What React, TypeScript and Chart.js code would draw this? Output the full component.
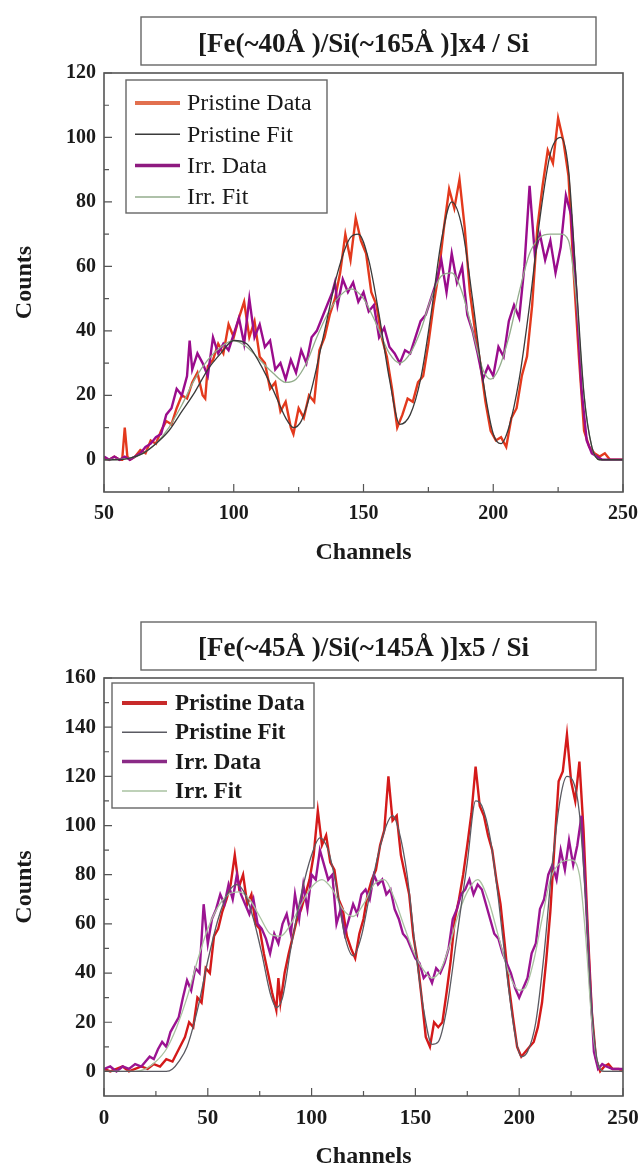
import React, { useEffect, useRef } from "react";
import { Chart, registerables } from "chart.js";

Chart.register(...registerables);

// ================= Top panel data =================
const topTitle = "[Fe(~40Å )/Si(~165Å )]x4 / Si";
const topXTicks = [50, 100, 150, 200, 250];
const topXMinor = [75, 125, 175, 225];
const topYTicks = [0, 20, 40, 60, 80, 100, 120];
const topYMinor = [10, 30, 50, 70, 90, 110];

const topPristineDataCh = [
  50, 52, 54, 56, 57, 58, 59, 60, 62, 64,
  66, 68, 70, 72, 74, 76, 78, 80, 82, 84,
  86, 88, 89, 90, 92, 94, 96, 98, 100, 102,
  104, 106, 108, 110, 112, 114, 116, 118, 120, 122,
  123, 125, 127, 129, 131, 133, 135, 137, 139, 141,
  143, 145, 147, 149, 151, 153, 155, 157, 159, 161,
  163, 165, 167, 169, 171, 173, 175, 177, 179, 181,
  183, 185, 187, 189, 191, 193, 195, 197, 199, 201,
  203, 205, 207, 209, 211, 213, 215, 217, 219, 221,
  223, 225, 227, 229, 231, 233, 235, 237, 239, 241,
  243, 245, 248, 250,
];
const topPristineDataCounts = [
  0.5, 0, 1, 0, 0, 10, 1, 0, 1, 3,
  2, 6, 5, 9, 12, 11, 16, 20, 19, 24,
  27, 20, 19, 29, 31, 36, 33, 42, 38, 44,
  49, 38, 43, 32, 30, 22, 24, 15, 18, 10,
  8, 16, 13, 20, 18, 34, 38, 45, 50, 58,
  70, 62, 75, 68, 64, 52, 48, 38, 32, 22,
  10, 14, 19, 18, 24, 26, 36, 48, 58, 72,
  84, 78, 87, 72, 52, 40, 30, 18, 9, 6,
  7, 4, 13, 16, 26, 32, 48, 72, 85, 96,
  92, 106, 99, 88, 58, 32, 9, 4, 2, 1,
  2, 0, 0, 0,
];

const topPristineFitCh = [
  50, 55, 60, 65, 70, 75, 80, 85, 90, 95,
  100, 105, 110, 115, 120, 123, 126, 130, 135, 140,
  145, 148, 152, 156, 160, 164, 168, 172, 176, 180,
  184, 188, 192, 196, 200, 203, 206, 210, 214, 218,
  222, 226, 229, 232, 235, 238, 241, 250,
];
const topPristineFitCounts = [
  0, 0, 0.5, 2, 5, 9, 15, 21, 28, 33,
  37, 36, 30, 22, 13, 10, 12, 22, 40, 58,
  69, 70, 62, 45, 25, 11, 14, 25, 45, 68,
  80, 72, 50, 25, 8, 5, 10, 25, 48, 75,
  95, 100, 90, 55, 20, 4, 0, 0,
];

const topIrrDataCh = [
  50, 52, 54, 56, 58, 60, 62, 64, 66, 68,
  70, 72, 74, 76, 78, 80, 82, 83, 84, 86,
  88, 90, 92, 94, 96, 98, 100, 102, 104, 106,
  108, 110, 112, 114, 116, 118, 120, 122, 124, 126,
  128, 130, 132, 134, 136, 138, 139, 140, 142, 144,
  146, 148, 150, 152, 154, 156, 158, 160, 162, 164,
  166, 168, 170, 172, 174, 176, 178, 180, 182, 184,
  186, 188, 190, 192, 194, 196, 198, 200, 202, 204,
  206, 208, 210, 212, 214, 216, 218, 220, 222, 224,
  226, 228, 230, 232, 234, 236, 238, 240, 242, 246,
  250,
];
const topIrrDataCounts = [
  1, 0, 1, 0, 1, 0, 1, 2, 4, 5,
  7, 8, 14, 16, 22, 20, 26, 37, 28, 33,
  30, 26, 38, 33, 36, 34, 39, 44, 36, 50,
  38, 42, 35, 37, 28, 30, 25, 31, 27, 34,
  30, 38, 40, 44, 48, 52, 55, 48, 56, 52,
  55, 49, 52, 46, 48, 38, 41, 35, 33, 30,
  34, 33, 38, 43, 45, 50, 55, 62, 52, 64,
  55, 60, 45, 40, 33, 25, 29, 26, 35, 32,
  43, 48, 44, 60, 85, 64, 70, 62, 68, 58,
  66, 82, 76, 52, 22, 6, 2, 1, 0, 0,
  0,
];

const topIrrFitCh = [
  50, 60, 65, 70, 75, 80, 85, 90, 95, 100,
  105, 110, 115, 120, 124, 128, 132, 136, 140, 145,
  150, 155, 160, 164, 168, 172, 176, 180, 184, 188,
  192, 196, 199, 202, 206, 210, 214, 218, 222, 226,
  229, 232, 235, 238, 241, 250,
];
const topIrrFitCounts = [
  0, 0.5, 2, 5, 10, 17, 25, 31, 35, 37,
  35, 31, 27, 24, 25, 30, 38, 45, 50, 53,
  50, 42, 33, 30, 33, 40, 50, 57, 58, 52,
  40, 28, 25, 28, 38, 52, 64, 69, 70, 70,
  68, 50, 20, 4, 0, 0,
];

// ================= Bottom panel data =================
const botTitle = "[Fe(~45Å )/Si(~145Å )]x5 / Si";
const botXTicks = [0, 50, 100, 150, 200, 250];
const botXMinor = [25, 75, 125, 175, 225];
const botYTicks = [0, 20, 40, 60, 80, 100, 120, 140, 160];
const botYMinor = [10, 30, 50, 70, 90, 110, 130, 150];

const botPristineDataCh = [
  0, 3, 6, 9, 12, 15, 18, 21, 24, 27,
  30, 33, 36, 39, 41, 43, 45, 47, 49, 51,
  53, 55, 57, 59, 61, 63, 65, 67, 69, 71,
  73, 75, 77, 79, 81, 83, 84, 85, 87, 89,
  91, 93, 95, 97, 99, 101, 103, 105, 107, 109,
  111, 113, 115, 117, 119, 121, 123, 125, 127, 129,
  131, 133, 135, 137, 139, 141, 143, 145, 147, 149,
  151, 153, 155, 157, 159, 161, 163, 165, 167, 169,
  171, 173, 175, 177, 179, 181, 183, 185, 187, 189,
  191, 193, 195, 197, 199, 201, 203, 205, 207, 209,
  211, 213, 215, 217, 219, 221, 223, 225, 227, 229,
  231, 233, 235, 237, 239, 241, 243, 245, 248, 250,
];
const botPristineDataCounts = [
  1, 0, 1, 2, 0, 1, 2, 1, 3, 2,
  5, 4, 9, 14, 20, 18, 30, 28, 42, 40,
  55, 58, 65, 70, 76, 88, 75, 80, 68, 72,
  60, 58, 48, 40, 32, 25, 38, 28, 40, 48,
  55, 62, 66, 72, 78, 88, 106, 92, 96, 85,
  82, 70, 66, 55, 50, 46, 56, 62, 72, 78,
  82, 92, 98, 120, 102, 104, 88, 80, 72, 55,
  45, 30, 14, 10, 20, 18, 20, 32, 45, 62,
  70, 80, 92, 105, 124, 108, 104, 96, 90, 78,
  68, 52, 35, 22, 10, 6, 8, 10, 12, 18,
  28, 45, 65, 92, 118, 122, 137, 118, 110, 126,
  98, 58, 24, 5, 0, 2, 3, 1, 1, 0,
];

const botPristineFitCh = [
  0, 30, 33, 36, 40, 45, 50, 55, 60, 64,
  68, 72, 76, 80, 83, 86, 90, 95, 100, 104,
  108, 112, 116, 120, 124, 128, 132, 136, 139, 142,
  146, 150, 154, 158, 161, 165, 170, 175, 179, 182,
  186, 190, 194, 198, 201, 204, 208, 212, 216, 220,
  223, 226, 229, 232, 235, 238, 241, 250,
];
const botPristineFitCounts = [
  0, 0, 1, 4, 10, 25, 45, 62, 73, 76,
  72, 62, 48, 32, 26, 30, 50, 72, 88, 95,
  90, 75, 55, 47, 55, 72, 88, 100, 104, 98,
  80, 50, 25, 11, 12, 25, 55, 85, 110, 108,
  95, 70, 40, 15, 6, 8, 20, 48, 85, 112,
  120, 118, 105, 70, 25, 3, 0, 0,
];

const botIrrDataCh = [
  0, 3, 6, 9, 12, 15, 18, 20, 22, 24,
  26, 28, 30, 32, 34, 36, 38, 40, 42, 44,
  46, 48, 50, 52, 54, 56, 58, 60, 62, 64,
  66, 68, 70, 72, 74, 76, 78, 80, 82, 84,
  86, 88, 90, 92, 94, 96, 98, 100, 102, 104,
  106, 108, 110, 112, 114, 116, 118, 120, 122, 124,
  126, 128, 130, 132, 134, 136, 138, 140, 142, 144,
  146, 148, 150, 152, 154, 156, 158, 160, 162, 164,
  166, 168, 170, 172, 174, 176, 178, 180, 182, 184,
  186, 188, 190, 192, 194, 196, 198, 200, 202, 204,
  206, 208, 210, 212, 214, 216, 218, 220, 222, 224,
  226, 228, 230, 232, 234, 236, 238, 240, 242, 245,
  250,
];
const botIrrDataCounts = [
  1, 2, 0, 2, 1, 3, 2, 4, 6, 5,
  9, 12, 10, 16, 19, 22, 30, 37, 33, 42,
  40, 68, 52, 62, 66, 72, 68, 76, 70, 80,
  72, 68, 64, 70, 60, 58, 54, 48, 56, 52,
  60, 64, 56, 72, 62, 76, 66, 80, 78, 90,
  84, 78, 80, 60, 66, 56, 62, 68, 64, 72,
  74, 70, 80, 76, 78, 72, 74, 66, 62, 56,
  54, 50, 46, 44, 38, 40, 36, 42, 40, 44,
  50, 62, 66, 72, 74, 78, 72, 76, 74, 68,
  62, 56, 54, 48, 44, 40, 34, 30, 34, 38,
  48, 52, 66, 70, 80, 84, 78, 90, 82, 94,
  84, 92, 104, 72, 38, 8, 1, 3, 2, 1,
  1,
];

const botIrrFitCh = [
  0, 15, 20, 25, 30, 35, 40, 45, 50, 55,
  60, 65, 70, 75, 80, 85, 90, 95, 100, 105,
  110, 115, 120, 125, 130, 135, 140, 145, 150, 155,
  158, 162, 166, 170, 175, 180, 185, 190, 195, 200,
  203, 207, 211, 215, 220, 225, 229, 232, 235, 238,
  241, 250,
];
const botIrrFitCounts = [
  0, 0, 1, 4, 9, 18, 30, 45, 58, 67,
  72, 73, 70, 63, 56, 55, 60, 68, 75, 78,
  74, 66, 63, 68, 76, 78, 70, 58, 47, 40,
  38, 41, 50, 62, 73, 78, 70, 55, 40, 33,
  34, 45, 62, 78, 85, 86, 80, 55, 20, 3,
  0, 0,
];

const seriesLabels = ["Pristine Data", "Pristine Fit", "Irr. Data", "Irr. Fit"];

// ================= Helpers =================
const SERIF = "'Liberation Serif', 'Times New Roman', serif";
const AXIS = "#555555";
const TEXT = "#1a1a1a";

const pts = (xs: number[], ys: number[]) => xs.map((x, i) => ({ x, y: ys[i] }));

const decorPlugin = {
  id: "decor",
  afterDraw(chart: any, _args: any, opts: any) {
    const ctx = chart.ctx as CanvasRenderingContext2D;
    const { left, right, top, bottom } = chart.chartArea;
    const xs = chart.scales.x;
    const ys = chart.scales.y;
    ctx.save();
    // ticks (inward)
    ctx.strokeStyle = AXIS;
    ctx.lineWidth = 1.2;
    ctx.beginPath();
    opts.xMajor.forEach((v: number) => {
      const p = xs.getPixelForValue(v);
      ctx.moveTo(p, bottom);
      ctx.lineTo(p, bottom - 8);
    });
    opts.xMinor.forEach((v: number) => {
      const p = xs.getPixelForValue(v);
      ctx.moveTo(p, bottom);
      ctx.lineTo(p, bottom - 5);
    });
    opts.yMajor.forEach((v: number) => {
      const p = ys.getPixelForValue(v);
      ctx.moveTo(left, p);
      ctx.lineTo(left + 8, p);
    });
    opts.yMinor.forEach((v: number) => {
      const p = ys.getPixelForValue(v);
      ctx.moveTo(left, p);
      ctx.lineTo(left + 5, p);
    });
    ctx.stroke();
    // frame
    ctx.lineWidth = 1.6;
    ctx.strokeRect(left, top, right - left, bottom - top);

    // title box
    const tb = opts.titleBox;
    ctx.lineWidth = 1.4;
    ctx.strokeStyle = "#666";
    ctx.strokeRect(left + tb.l, top + tb.t, tb.r - tb.l, tb.b - tb.t);

    // legend
    const lg = opts.legend;
    ctx.fillStyle = "#ffffff";
    ctx.fillRect(left + lg.l, top + lg.t, lg.r - lg.l, lg.b - lg.t);
    ctx.strokeStyle = "#666";
    ctx.lineWidth = 1.4;
    ctx.strokeRect(left + lg.l, top + lg.t, lg.r - lg.l, lg.b - lg.t);
    ctx.font = lg.font;
    ctx.textBaseline = "middle";
    ctx.textAlign = "left";
    chart.data.datasets.forEach((ds: any, i: number) => {
      const y = top + lg.y0 + i * lg.dy;
      ctx.strokeStyle = ds.legendColor || ds.borderColor;
      ctx.lineWidth = ds.legendWidth;
      ctx.beginPath();
      ctx.moveTo(left + lg.x0, y);
      ctx.lineTo(left + lg.x1, y);
      ctx.stroke();
      ctx.fillStyle = TEXT;
      ctx.fillText(ds.label, left + lg.tx, y + 1);
    });
    ctx.restore();
  },
};

function makeConfig(p: any) {
  const datasets = [
    { label: seriesLabels[0], data: pts(p.pdX, p.pdY), borderColor: p.colors[0], legendColor: p.legendColors[0], borderWidth: 2.4, legendWidth: 4, order: 3, tension: 0 },
    { label: seriesLabels[1], data: pts(p.pfX, p.pfY), borderColor: p.colors[1], legendColor: p.legendColors[1], borderWidth: 1.3, legendWidth: 1.5, order: 0, tension: 0.4, cubicInterpolationMode: "monotone" },
    { label: seriesLabels[2], data: pts(p.idX, p.idY), borderColor: p.colors[2], legendColor: p.legendColors[2], borderWidth: 2.4, legendWidth: 3.5, order: 2, tension: 0 },
    { label: seriesLabels[3], data: pts(p.ifX, p.ifY), borderColor: p.colors[3], legendColor: p.legendColors[3], borderWidth: 1.3, legendWidth: 1.5, order: 1, tension: 0.4, cubicInterpolationMode: "monotone" },
  ];
  return {
    type: "line",
    data: { datasets },
    plugins: [decorPlugin],
    options: {
      animation: false,
      responsive: false,
      maintainAspectRatio: false,
      events: [],
      elements: { point: { radius: 0 } },
      layout: { padding: { left: 0, right: 17, top: 0, bottom: 0 } },
      plugins: {
        legend: { display: false },
        tooltip: { enabled: false },
        title: {
          display: true,
          text: p.title,
          fullSize: false,
          color: TEXT,
          font: { family: SERIF, size: 27, weight: "bold", lineHeight: 1.2 },
          padding: { top: p.titlePadTop, bottom: p.titlePadBottom },
        },
        decor: {
          xMajor: p.xTicks,
          xMinor: p.xMinor,
          yMajor: p.yTicks,
          yMinor: p.yMinor,
          titleBox: { l: 37, r: 492, t: -56, b: -8 },
          legend: p.legend,
        },
      },
      scales: {
        x: {
          type: "linear",
          min: p.xMin,
          max: p.xMax,
          afterBuildTicks: (s: any) => {
            s.ticks = p.xTicks.map((v: number) => ({ value: v }));
          },
          afterFit: (s: any) => {
            s.height = p.xAxisHeight;
            s.paddingRight = 0;
            s.paddingLeft = 0;
          },
          grid: { display: false, drawTicks: false },
          border: { display: false },
          ticks: { color: TEXT, font: { family: SERIF, size: p.tickSize, weight: "bold" }, padding: 10, maxRotation: 0, autoSkip: false },
          title: { display: true, text: "Channels", color: TEXT, font: { family: SERIF, size: 24, weight: "bold", lineHeight: 1 }, padding: { top: 0, bottom: p.xTitlePad } },
        },
        y: {
          type: "linear",
          min: p.yMin,
          max: p.yMax,
          afterBuildTicks: (s: any) => {
            s.ticks = p.yTicks.map((v: number) => ({ value: v }));
          },
          afterFit: (s: any) => {
            s.width = 104;
          },
          grid: { display: false, drawTicks: false },
          border: { display: false },
          ticks: { color: TEXT, font: { family: SERIF, size: p.tickSize, weight: "bold" }, padding: 8, autoSkip: false },
          title: { display: true, text: "Counts", color: TEXT, font: { family: SERIF, size: 24, weight: "bold", lineHeight: 1 }, padding: { top: 13, bottom: 0 } },
        },
      },
    },
  };
}

const topPanel = {
  title: topTitle,
  titlePadTop: 28.6,
  titlePadBottom: 12,
  xMin: 50, xMax: 250, yMin: -10, yMax: 120,
  xTicks: topXTicks, xMinor: topXMinor, yTicks: topYTicks, yMinor: topYMinor,
  xAxisHeight: 88, xTitlePad: 15, tickSize: 20,
  colors: ["#e3391d", "#3a3a3a", "#9a0c8c", "#93ad8c"],
  legendColors: ["#e2704f", "#3a3a3a", "#8e1a80", "#93ad8c"],
  pdX: topPristineDataCh, pdY: topPristineDataCounts,
  pfX: topPristineFitCh, pfY: topPristineFitCounts,
  idX: topIrrDataCh, idY: topIrrDataCounts,
  ifX: topIrrFitCh, ifY: topIrrFitCounts,
  legend: { l: 22, r: 223, t: 7, b: 140, y0: 30, dy: 31.3, x0: 31, x1: 76, tx: 83, font: `24px ${SERIF}` },
};

const botPanel = {
  title: botTitle,
  titlePadTop: 52.6,
  titlePadBottom: 13,
  xMin: 0, xMax: 250, yMin: -10, yMax: 160,
  xTicks: botXTicks, xMinor: botXMinor, yTicks: botYTicks, yMinor: botYMinor,
  xAxisHeight: 73, xTitlePad: 0, tickSize: 21,
  colors: ["#d41a1a", "#5a5a62", "#9b1491", "#a9c2a1"],
  legendColors: ["#c82a2a", "#5a5a62", "#8a2a86", "#a9c2a1"],
  pdX: botPristineDataCh, pdY: botPristineDataCounts,
  pfX: botPristineFitCh, pfY: botPristineFitCounts,
  idX: botIrrDataCh, idY: botIrrDataCounts,
  ifX: botIrrFitCh, ifY: botIrrFitCounts,
  legend: { l: 8, r: 210, t: 5, b: 130, y0: 25, dy: 29.3, x0: 18, x1: 63, tx: 71, font: `bold 23px ${SERIF}` },
};

function Panel({ cfg, top, height }: { cfg: any; top: number; height: number }) {
  const ref = useRef<HTMLCanvasElement>(null);
  useEffect(() => {
    if (!ref.current) return;
    const chart = new Chart(ref.current, makeConfig(cfg) as any);
    return () => chart.destroy();
  }, [cfg]);
  return (
    <canvas
      ref={ref}
      width={640}
      height={height}
      style={{ position: "absolute", left: 0, top, width: 640, height, display: "block" }}
    />
  );
}

export default function App() {
  return (
    <div style={{ position: "absolute", left: 0, top: 0, width: 640, height: 1169, background: "#fff", overflow: "hidden" }}>
      <Panel cfg={topPanel} top={0} height={580} />
      <Panel cfg={botPanel} top={580} height={589} />
    </div>
  );
}
